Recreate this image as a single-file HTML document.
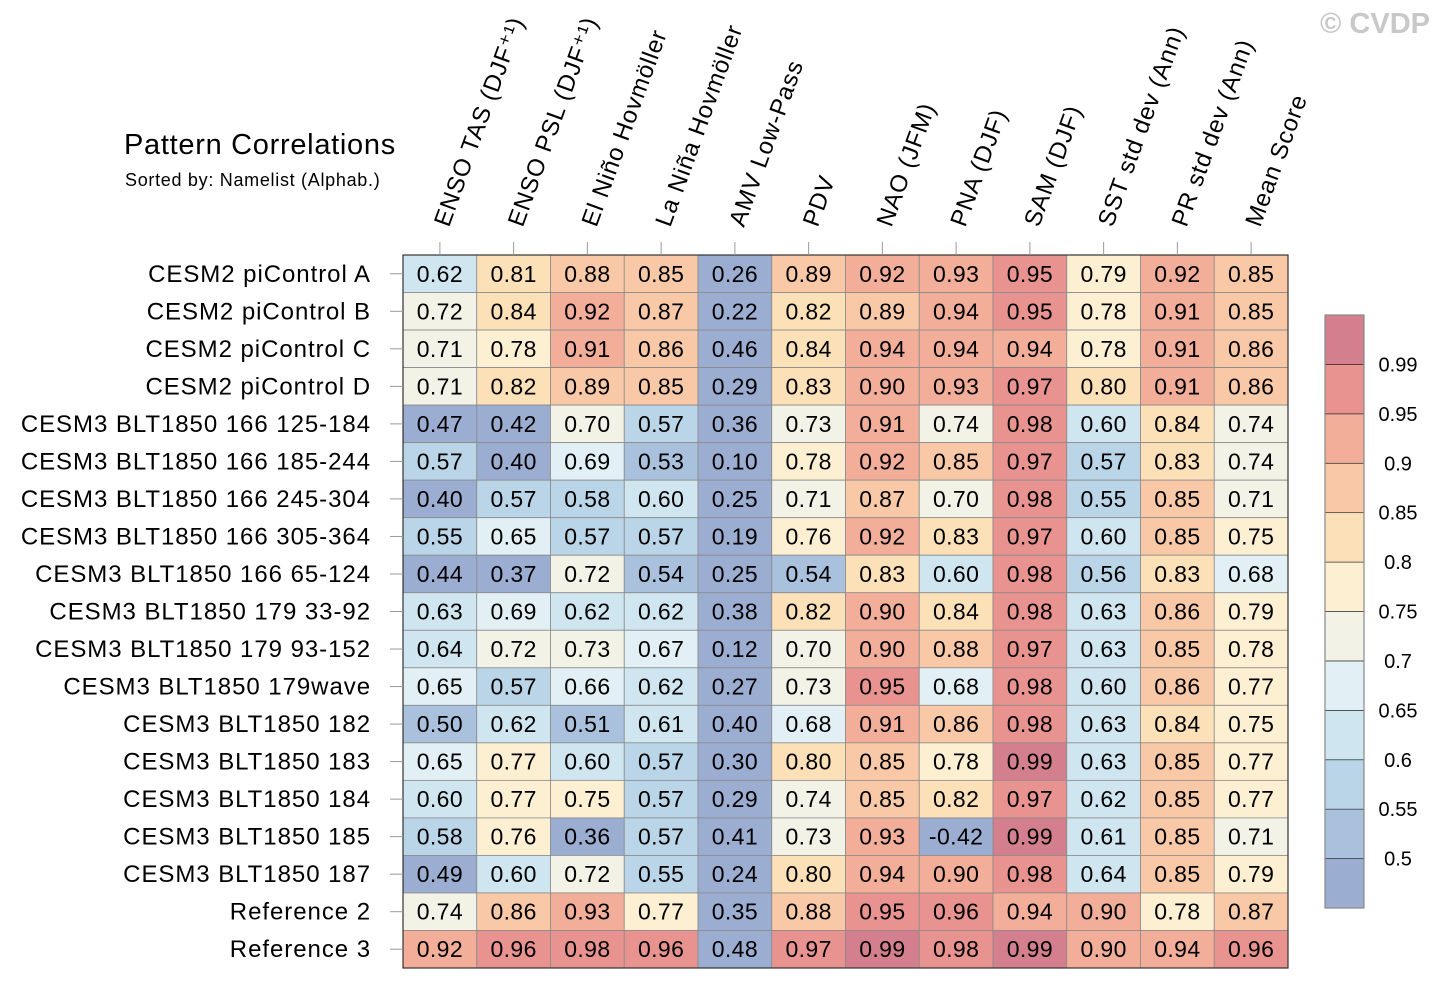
<!DOCTYPE html>
<html><head><meta charset="utf-8"><style>
body{margin:0;background:#fff;}
svg{display:block;font-family:"Liberation Sans",sans-serif;}
</style></head><body>
<svg id="chart" width="1440" height="989">
<text x="1430" y="33" text-anchor="end" font-size="29" font-weight="bold" fill="#c8c8c8">© CVDP</text>
<text x="124" y="154" font-size="29" letter-spacing="0.7" fill="#000">Pattern Correlations</text>
<text x="125" y="186" font-size="18" letter-spacing="0.7" fill="#000">Sorted by: Namelist (Alphab.)</text>
<g id="cells"></g><g id="collabels"></g><g id="rowlabels"></g><g id="cbar"></g>
</svg>
<script>
const columns=["ENSO TAS (DJF⁺¹)","ENSO PSL (DJF⁺¹)","El Niño Hovmöller","La Niña Hovmöller","AMV Low-Pass","PDV","NAO (JFM)","PNA (DJF)","SAM (DJF)","SST std dev (Ann)","PR std dev (Ann)","Mean Score"];
const rows=["CESM2 piControl A","CESM2 piControl B","CESM2 piControl C","CESM2 piControl D","CESM3 BLT1850 166 125-184","CESM3 BLT1850 166 185-244","CESM3 BLT1850 166 245-304","CESM3 BLT1850 166 305-364","CESM3 BLT1850 166 65-124","CESM3 BLT1850 179 33-92","CESM3 BLT1850 179 93-152","CESM3 BLT1850 179wave","CESM3 BLT1850 182","CESM3 BLT1850 183","CESM3 BLT1850 184","CESM3 BLT1850 185","CESM3 BLT1850 187","Reference 2","Reference 3"];
const values=[
[0.62,0.81,0.88,0.85,0.26,0.89,0.92,0.93,0.95,0.79,0.92,0.85],
[0.72,0.84,0.92,0.87,0.22,0.82,0.89,0.94,0.95,0.78,0.91,0.85],
[0.71,0.78,0.91,0.86,0.46,0.84,0.94,0.94,0.94,0.78,0.91,0.86],
[0.71,0.82,0.89,0.85,0.29,0.83,0.90,0.93,0.97,0.80,0.91,0.86],
[0.47,0.42,0.70,0.57,0.36,0.73,0.91,0.74,0.98,0.60,0.84,0.74],
[0.57,0.40,0.69,0.53,0.10,0.78,0.92,0.85,0.97,0.57,0.83,0.74],
[0.40,0.57,0.58,0.60,0.25,0.71,0.87,0.70,0.98,0.55,0.85,0.71],
[0.55,0.65,0.57,0.57,0.19,0.76,0.92,0.83,0.97,0.60,0.85,0.75],
[0.44,0.37,0.72,0.54,0.25,0.54,0.83,0.60,0.98,0.56,0.83,0.68],
[0.63,0.69,0.62,0.62,0.38,0.82,0.90,0.84,0.98,0.63,0.86,0.79],
[0.64,0.72,0.73,0.67,0.12,0.70,0.90,0.88,0.97,0.63,0.85,0.78],
[0.65,0.57,0.66,0.62,0.27,0.73,0.95,0.68,0.98,0.60,0.86,0.77],
[0.50,0.62,0.51,0.61,0.40,0.68,0.91,0.86,0.98,0.63,0.84,0.75],
[0.65,0.77,0.60,0.57,0.30,0.80,0.85,0.78,0.99,0.63,0.85,0.77],
[0.60,0.77,0.75,0.57,0.29,0.74,0.85,0.82,0.97,0.62,0.85,0.77],
[0.58,0.76,0.36,0.57,0.41,0.73,0.93,-0.42,0.99,0.61,0.85,0.71],
[0.49,0.60,0.72,0.55,0.24,0.80,0.94,0.90,0.98,0.64,0.85,0.79],
[0.74,0.86,0.93,0.77,0.35,0.88,0.95,0.96,0.94,0.90,0.78,0.87],
[0.92,0.96,0.98,0.96,0.48,0.97,0.99,0.98,0.99,0.90,0.94,0.96]];
const levels=[0.5,0.55,0.6,0.65,0.7,0.75,0.8,0.85,0.9,0.95,0.99];
const levelLabels=["0.5","0.55","0.6","0.65","0.7","0.75","0.8","0.85","0.9","0.95","0.99"];
const colors=["#9cadd2","#a9c1dc","#bad5e7","#cfe5ef","#e2f0f5","#f2f2e6","#fdf0d2","#fce0b8","#f9c9a7","#f3ae9a","#e8938f","#d47f8e"];
const NS="http://www.w3.org/2000/svg";
const X0=403,Y0=255,CW=(1288-403)/columns.length,RH=(968-255)/rows.length;
const xs=i=>X0+i*CW, ys=j=>Y0+j*RH;
function bin(v){let b=0;for(const l of levels){if(v>=l-1e-9)b++;}return b;}
function mk(tag,attrs,parent){const e=document.createElementNS(NS,tag);for(const k in attrs)e.setAttribute(k,attrs[k]);parent.appendChild(e);return e;}
const cells=document.getElementById('cells');
values.forEach((row,j)=>row.forEach((v,i)=>{
 const r=mk('rect',{x:xs(i),y:ys(j),width:CW,height:RH,fill:colors[bin(v)],stroke:'#8a8a8a','stroke-width':0.8},cells);
 
 
 const t=mk('text',{x:xs(i)+CW/2,y:ys(j)+RH/2+8,'text-anchor':'middle','font-size':23,'letter-spacing':0.4,fill:'#000'},cells);
 t.textContent=v.toFixed(2);
 
 
}));
const fr=mk('rect',{x:X0,y:Y0,width:1288-X0,height:968-Y0,fill:'none',stroke:'#333','stroke-width':1.2},cells);


const cl=document.getElementById('collabels');
columns.forEach((c,i)=>{
 const cx=xs(i)+CW/2;
 mk('line',{x1:cx,y1:242,x2:cx,y2:Y0,stroke:'#999','stroke-width':1},cl);
 const t=mk('text',{x:cx+9,y:228,'font-size':24,'letter-spacing':0.9,fill:'#000',transform:`rotate(-70 ${cx+9} 228)`},cl);
 t.textContent=c;
 
 
});
const rl=document.getElementById('rowlabels');
rows.forEach((r,j)=>{
 const cy=ys(j)+RH/2;
 mk('line',{x1:390,y1:cy,x2:X0,y2:cy,stroke:'#999','stroke-width':1},rl);
 const t=mk('text',{x:371,y:cy+8,'text-anchor':'end','font-size':24,'letter-spacing':0.95,fill:'#000'},rl);
 t.textContent=r;
 
 
});
const cb=document.getElementById('cbar');
const CB0=315,CB1=908,BH=(CB1-CB0)/colors.length;
colors.forEach((c,k)=>{
 const r=mk('rect',{x:1325,y:CB1-(k+1)*BH,width:39,height:BH,fill:c,stroke:'#333','stroke-width':0.7},cb);
 
 
});
mk('rect',{x:1325,y:CB0,width:39,height:CB1-CB0,fill:'none',stroke:'#888','stroke-width':1.2},cb);
levelLabels.forEach((l,k)=>{
 const t=mk('text',{x:1398,y:CB1-(k+1)*BH+7,'text-anchor':'middle','font-size':20,fill:'#000'},cb);
 t.textContent=l;
 
 
});
</script>
</body></html>
